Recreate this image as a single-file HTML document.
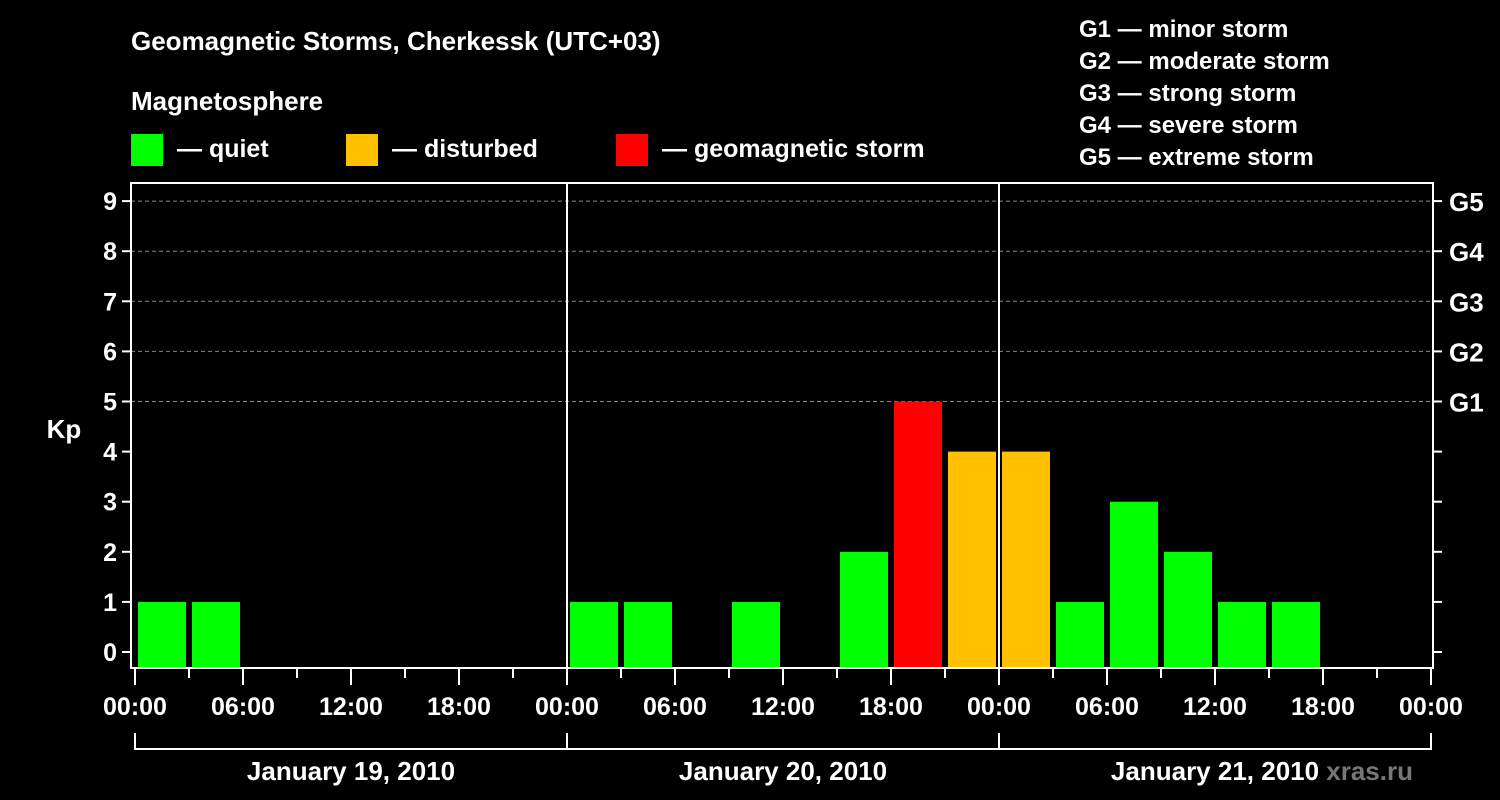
<!DOCTYPE html>
<html><head><meta charset="utf-8"><style>
body{margin:0;background:#000;width:1500px;height:800px;overflow:hidden}
svg{display:block;font-family:"Liberation Sans",Arial,sans-serif;font-weight:bold}
</style></head><body>
<svg id="c" width="1500" height="800">
<rect width="1500" height="800" fill="#000"/>
<text x="131" y="50" fill="#fff" font-size="26">Geomagnetic Storms, Cherkessk (UTC+03)</text>
<text x="131" y="110" fill="#fff" font-size="26">Magnetosphere</text>
<g><rect x="131" y="134" width="32" height="32" fill="#00ff00"/><text x="177" y="157" fill="#fff" font-size="25">— quiet</text></g>
<g><rect x="346" y="134" width="32" height="32" fill="#ffc000"/><text x="392" y="157" fill="#fff" font-size="25">— disturbed</text></g>
<g><rect x="616" y="134" width="32" height="32" fill="#ff0000"/><text x="662" y="157" fill="#fff" font-size="25">— geomagnetic storm</text></g>
<g fill="#fff" font-size="24">
<text x="1079" y="37">G1 — minor storm</text>
<text x="1079" y="69">G2 — moderate storm</text>
<text x="1079" y="101">G3 — strong storm</text>
<text x="1079" y="133">G4 — severe storm</text>
<text x="1079" y="165">G5 — extreme storm</text>
</g>
<text x="64" y="438" fill="#fff" font-size="26" text-anchor="middle">Kp</text>
<text x="1413" y="780" fill="#777" font-size="26" text-anchor="end">xras.ru</text>
<g id="plot"></g>
</svg>
<script>
const days=["January 19, 2010","January 20, 2010","January 21, 2010"];
const kpDay1=[1,1,null,null,null,null,null,null];
const kpDay2=[1,1,null,1,null,2,5,4];
const kpDay3=[4,1,3,2,1,1,null,null];
const hourLabels=["00:00","06:00","12:00","18:00"];
const yTicks=[0,1,2,3,4,5,6,7,8,9];
const gLevels=[5,6,7,8,9];
const gLabels=["G1","G2","G3","G4","G5"];
const NS="http://www.w3.org/2000/svg";
const g=document.getElementById('plot');
const X0=135,DAYW=432,L=131,R=1433,T=183,B=668;
const x=h=>X0+h*DAYW/24;
const y=v=>652-v*50.1;
function mk(t,a,p){const e=document.createElementNS(NS,t);for(const k in a)e.setAttribute(k,a[k]);(p||g).appendChild(e);return e;}
// grid
gLevels.forEach(v=>{const e=mk('line',{x1:L,x2:R,y1:y(v),y2:y(v),stroke:'#888','stroke-dasharray':'4 3','stroke-width':1});

});
// bars
const all=[kpDay1,kpDay2,kpDay3];
all.forEach((arr,d)=>arr.forEach((v,i)=>{if(v==null)return;
const h=d*24+i*3;const col=v>=5?'#ff0000':v>=4?'#ffc000':'#00ff00';
const e=mk('rect',{x:x(h)+3,y:y(v),width:DAYW/8-6,height:B-1-y(v),fill:col});

}));
// day separators
[1,2].forEach(d=>{const e=mk('line',{x1:x(d*24),x2:x(d*24),y1:T,y2:B,stroke:'#fff','stroke-width':2});

});
// frame
const fr=mk('rect',{x:L,y:T,width:R-L,height:B-T,fill:'none',stroke:'#fff','stroke-width':2});


// y ticks
yTicks.forEach(v=>{mk('line',{x1:L-9,x2:L,y1:y(v),y2:y(v),stroke:'#fff','stroke-width':2});
mk('line',{x1:R,x2:R+9,y1:y(v),y2:y(v),stroke:'#fff','stroke-width':2});
const t=mk('text',{x:L-14,y:y(v)+9,fill:'#fff','font-size':25,'text-anchor':'end'});t.textContent=v;

});
gLevels.forEach((v,i)=>{const t=mk('text',{x:1449,y:y(v)+10,fill:'#fff','font-size':26});t.textContent=gLabels[i];

});
// x ticks
for(let h=0;h<=72;h+=3){const major=h%6==0;
mk('line',{x1:x(h),x2:x(h),y1:B,y2:B+(major?17:10),stroke:'#fff','stroke-width':2});
if(major){const t=mk('text',{x:x(h),y:715,fill:'#fff','font-size':25,'text-anchor':'middle'});t.textContent=hourLabels[(h%24)/6];

}}
// day brackets
mk('line',{x1:x(0),x2:x(72),y1:749,y2:749,stroke:'#fff','stroke-width':2});
for(let d=0;d<=3;d++)mk('line',{x1:x(d*24),x2:x(d*24),y1:733,y2:750,stroke:'#fff','stroke-width':2});
days.forEach((s,d)=>{const t=mk('text',{x:x(d*24+12),y:780,fill:'#fff','font-size':26,'text-anchor':'middle'});t.textContent=s;

});
</script>
</body></html>
